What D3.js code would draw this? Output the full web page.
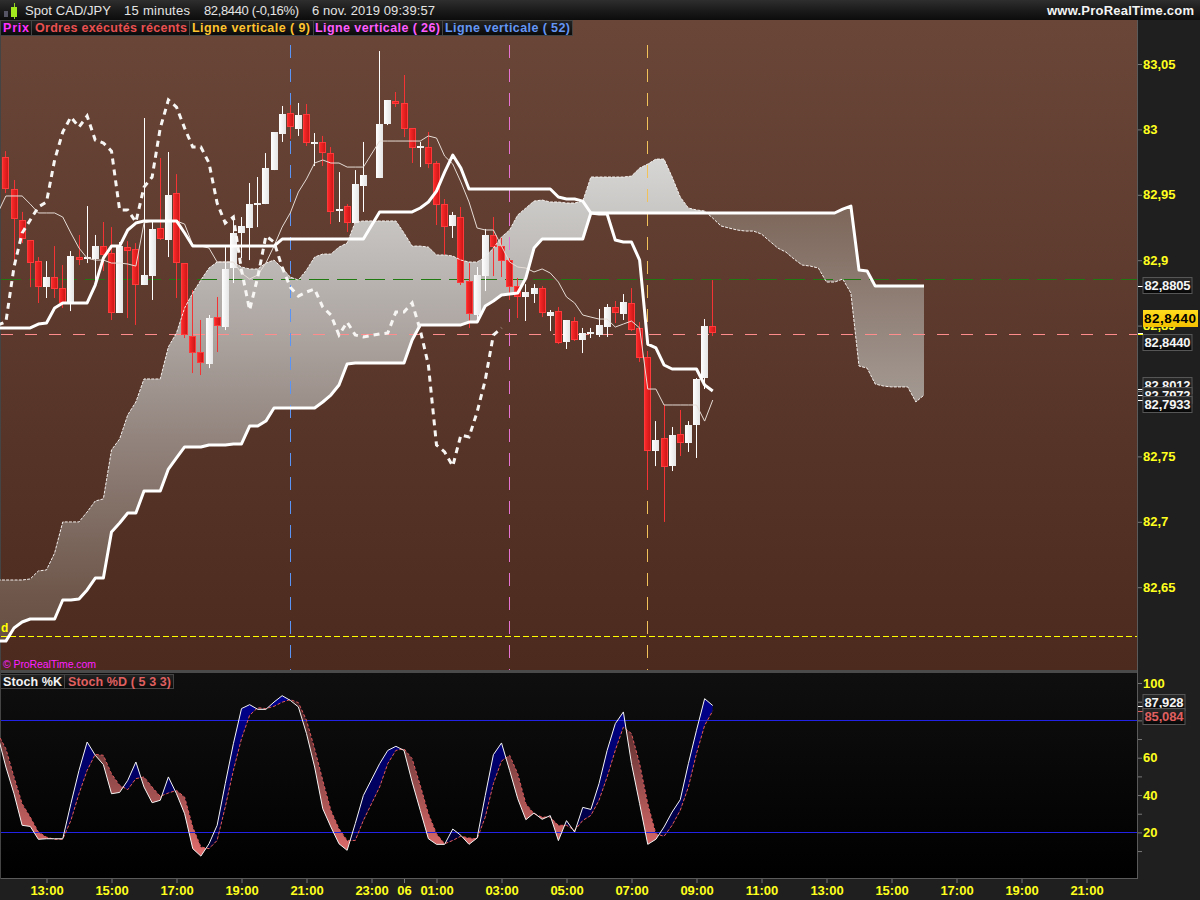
<!DOCTYPE html>
<html><head><meta charset="utf-8"><script src="https://d3js.org/d3.v7.min.js"></script>
<style>html,body{margin:0;padding:0;background:#1f1f1f}svg{display:block}text{font-family:"Liberation Sans",Arial,sans-serif}</style></head>
<body><div id="c"></div>
<script>
// bar index 0 = 13:00, one bar = 15 minutes. Bar 40 (23:00) has no trade.
// Each row below holds ten bars.
const candleStart=-5, lineStart=-6;
const opens=[82.9789,82.9544,82.9307,82.9154,82.8993,82.8794,82.8871,82.8787,82.8673,82.9024,
82.9009,82.9009,82.9108,82.9055,82.8596,82.9100,82.9086,82.8810,82.8879,82.9246,
82.9154,82.9513,82.8978,82.8420,82.8298,82.8206,82.8565,82.8489,82.8940,82.9208,
82.9246,82.9422,82.9429,82.9689,82.9964,83.0125,83.0003,83.0117,82.9888,82.9904,
82.9819,82.9376,82.9414,82.9284,82.9567,null,82.9628,83.0041,83.0217,83.0202,
83.0010,82.9857,82.9865,82.9743,82.9429,82.9262,82.9330,82.8841,82.8581,82.8879,
82.9193,82.9108,82.9001,82.8802,82.8719,82.8741,82.8787,82.8573,82.8611,82.8375,
82.8535,82.8390,82.8436,82.8428,82.8489,82.8642,82.8588,82.8673,82.8482,82.8260,
82.7541,82.7641,82.7426,82.7671,82.7602,82.7740,82.8099,82.8497];
const closes=[82.9544,82.9315,82.9162,82.8978,82.8794,82.8871,82.8780,82.8673,82.9032,82.9009,
82.9024,82.9108,82.9040,82.8596,82.9108,82.9070,82.8810,82.8887,82.9239,82.9162,
82.9498,82.8978,82.8428,82.8290,82.8214,82.8558,82.8497,82.8933,82.9208,82.9262,
82.9429,82.9437,82.9704,82.9980,83.0117,83.0018,83.0110,82.9896,82.9904,82.9819,
82.9369,82.9391,82.9284,82.9582,82.9651,null,83.0041,83.0225,83.0194,83.0003,
82.9857,82.9873,82.9735,82.9422,82.9253,82.9345,82.8825,82.8588,82.8887,82.9193,
82.9100,82.8993,82.8794,82.8719,82.8757,82.8787,82.8596,82.8604,82.8367,82.8543,
82.8390,82.8443,82.8451,82.8505,82.8642,82.8596,82.8681,82.8466,82.8252,82.7541,
82.7625,82.7419,82.7664,82.7602,82.7740,82.8092,82.8497,82.8440];
const highs=[82.9834,82.9613,82.9369,82.9154,82.9024,82.8993,82.9108,82.8963,82.9070,82.9193,
82.9414,82.9193,82.9292,82.9253,82.9139,82.9146,82.9131,83.0087,82.9292,82.9781,
82.9827,82.9658,82.8978,82.8772,82.8543,82.8581,82.8719,82.9100,82.9330,82.9330,
82.9590,82.9636,82.9819,82.9980,83.0179,83.0187,83.0202,83.0194,82.9972,82.9950,
82.9865,82.9674,82.9429,82.9689,82.9904,null,83.0599,83.0225,83.0286,83.0416,
83.0010,82.9904,82.9980,82.9758,82.9468,82.9369,82.9407,82.8978,82.8948,82.9239,
82.9330,82.9177,82.9016,82.8864,82.8817,82.8817,82.8802,82.8619,82.8642,82.8543,
82.8565,82.8482,82.8482,82.8627,82.8665,82.8688,82.8741,82.8787,82.8527,82.8306,
82.7770,82.7893,82.7725,82.7855,82.7770,82.8099,82.8550,82.8848];
const lows=[82.9513,82.8978,82.9131,82.8794,82.8673,82.8711,82.8711,82.8635,82.8611,82.8963,
82.8978,82.8848,82.8917,82.8543,82.8596,82.8558,82.8505,82.8810,82.8696,82.9154,
82.9024,82.8711,82.8405,82.8137,82.8122,82.8175,82.8298,82.8466,82.8825,82.9016,
82.9001,82.9253,82.9429,82.9689,82.9904,82.9927,82.9950,82.9873,82.9720,82.9720,
82.9276,82.9292,82.9216,82.9284,82.9369,null,82.9628,83.0033,83.0171,82.9941,
82.9743,82.9712,82.9704,82.9269,82.9040,82.9170,82.8810,82.8482,82.8527,82.8764,
82.8879,82.8871,82.8696,82.8558,82.8535,82.8673,82.8565,82.8458,82.8359,82.8321,
82.8382,82.8290,82.8405,82.8413,82.8413,82.8520,82.8543,82.8458,82.8222,82.7243,
82.7426,82.6999,82.7388,82.7503,82.7534,82.7488,82.8015,82.8420];
// Kijun, thick white, bars -6..82
const kijun=[82.8482,82.8482,82.8482,82.8482,82.8482,82.8512,82.8520,82.8635,82.8673,82.8673,
82.8673,82.8673,82.8810,82.9016,82.9108,82.9108,82.9231,82.9284,82.9300,82.9300,
82.9300,82.9300,82.9300,82.9208,82.9108,82.9108,82.9108,82.9108,82.9108,82.9108,
82.9108,82.9108,82.9108,82.9108,82.9108,82.9162,82.9162,82.9162,82.9162,82.9162,
82.9162,82.9162,82.9162,82.9162,82.9162,82.9162,null,82.9369,82.9369,82.9369,
82.9369,82.9369,82.9399,82.9445,82.9528,82.9674,82.9804,82.9704,82.9544,82.9544,
82.9544,82.9544,82.9544,82.9544,82.9544,82.9544,82.9544,82.9544,82.9544,82.9483,
82.9468,82.9468,82.9452,82.9361,82.9353,82.9353,82.9154,82.9139,82.9139,82.9001,
82.8359,82.8329,82.8199,82.8168,82.8168,82.8168,82.8168,82.8046,82.8000];
// Tenkan, thin line, bars -6..82
const tenkan=[82.9361,82.9491,82.9491,82.9491,82.9429,82.9361,82.9361,82.9361,82.9330,82.9208,
82.9093,82.9016,82.9001,82.9001,82.8978,82.8978,82.8971,82.8955,82.9284,82.9300,
82.9300,82.9300,82.9300,82.9276,82.9116,82.9108,82.9093,82.8986,82.8986,82.8986,
82.8902,82.8856,82.8887,82.8978,82.9108,82.9253,82.9361,82.9521,82.9621,82.9743,
82.9766,82.9743,82.9743,82.9712,82.9712,82.9712,null,82.9911,82.9911,82.9911,
82.9911,82.9911,82.9911,82.9950,82.9934,82.9796,82.9735,82.9598,82.9445,82.9246,
82.9231,82.9231,82.9108,82.8986,82.8948,82.8940,82.8910,82.8933,82.8902,82.8833,
82.8719,82.8673,82.8581,82.8565,82.8550,82.8550,82.8489,82.8512,82.8535,82.8482,
82.8015,82.8015,82.7893,82.7893,82.7893,82.7893,82.7893,82.7770,82.7931];
// Chikou, thick dashed, bars -6..56
const chikou=[82.8505,82.8527,82.8948,82.9208,82.9307,82.9407,82.9445,82.9766,82.9980,83.0095,
83.0018,83.0102,82.9919,82.9896,82.9834,82.9384,82.9384,82.9292,82.9559,82.9636,
83.0010,83.0225,83.0171,83.0010,82.9865,82.9865,82.9743,82.9437,82.9284,82.9330,
82.8925,82.8619,82.8871,82.9185,82.9139,82.8948,82.8794,82.8726,82.8757,82.8780,
82.8642,82.8581,82.8428,82.8527,82.8428,82.8413,null,82.8436,82.8443,82.8604,
82.8604,82.8673,82.8466,82.8199,82.7587,82.7534,82.7426,82.7664,82.7648,82.7839,
82.8084,82.8428,82.8482];
// Senkou B, thick cloud edge, bars -6..108
const senkouB=[82.6088,82.6088,82.6188,82.6234,82.6257,82.6257,82.6257,82.6257,82.6402,82.6402,
82.6410,82.6479,82.6570,82.6570,82.6922,82.6991,82.7067,82.7067,82.7235,82.7235,
82.7235,82.7403,82.7488,82.7572,82.7572,82.7572,82.7587,82.7587,82.7587,82.7595,
82.7595,82.7732,82.7732,82.7770,82.7870,82.7870,82.7870,82.7870,82.7870,82.7870,
82.7916,82.7969,82.8046,82.8206,82.8214,82.8214,null,82.8214,82.8214,82.8214,
82.8214,82.8390,82.8505,82.8505,82.8505,82.8505,82.8505,82.8505,82.8527,82.8527,
82.8650,82.8688,82.8734,82.8741,82.8749,82.8864,82.9093,82.9162,82.9162,82.9162,
82.9162,82.9162,82.9162,82.9361,82.9361,82.9361,82.9361,82.9361,82.9361,82.9361,
82.9361,82.9361,82.9361,82.9361,82.9361,82.9361,82.9361,82.9361,82.9361,82.9361,
82.9361,82.9361,82.9361,82.9361,82.9361,82.9361,82.9361,82.9361,82.9361,82.9361,
82.9361,82.9361,82.9361,82.9361,82.9391,82.9414,82.8925,82.8917,82.8802,82.8802,
82.8802,82.8802,82.8802,82.8802,82.8802];
// Senkou A, thin dashed cloud edge, bars -6..108
const senkouA=[82.6555,82.6555,82.6555,82.6555,82.6563,82.6624,82.6632,82.6761,82.6999,82.6999,
82.6999,82.7075,82.7159,82.7175,82.7549,82.7633,82.7817,82.7916,82.8092,82.8092,
82.8092,82.8337,82.8443,82.8635,82.8749,82.8848,82.8940,82.8986,82.8986,82.8986,
82.8948,82.8933,82.8933,82.8978,82.9001,82.8940,82.8871,82.8848,82.8925,82.9024,
82.9047,82.9047,82.9100,82.9131,82.9292,82.9300,null,82.9300,82.9300,82.9300,
82.9208,82.9108,82.9108,82.9100,82.9040,82.9040,82.9032,82.9001,82.8986,82.8986,
82.9024,82.9093,82.9177,82.9231,82.9346,82.9399,82.9452,82.9460,82.9445,82.9445,
82.9437,82.9437,82.9452,82.9636,82.9636,82.9636,82.9636,82.9636,82.9643,82.9704,
82.9735,82.9773,82.9773,82.9636,82.9483,82.9399,82.9384,82.9376,82.9322,82.9262,
82.9246,82.9231,82.9223,82.9223,82.9200,82.9146,82.9093,82.9062,82.9009,82.8963,
82.8955,82.8940,82.8833,82.8833,82.8856,82.8749,82.8191,82.8175,82.8053,82.8038,
82.8031,82.8031,82.8031,82.7916,82.7969];
// Stochastic, bars -6..82
const stochK=[72.0,55.0,40.7,23.8,23.2,16.3,16.6,16.6,16.6,35.4,
53.2,68.4,61.3,56.3,40.7,41.4,47.9,57.7,44.3,35.9,
37.2,49.7,40.7,30.0,11.3,7.3,13.9,23.8,46.1,67.5,
86.3,88.4,85.9,85.9,89.8,93.2,90.7,87.2,72.9,55.0,
32.7,22.9,13.9,10.4,24.7,39.8,null,56.8,63.9,66.1,
63.9,47.0,31.8,16.6,13.6,13.6,21.8,18.4,13.6,17.0,
39.8,61.6,67.9,53.2,38.0,26.8,30.4,27.0,29.0,15.6,
26.3,20.2,33.4,32.3,46.1,63.9,78.2,84.5,56.8,35.4,
13.6,16.3,22.9,30.9,37.5,56.8,74.7,91.6,87.928];
const stochD=[72.9,64.8,49.7,35.4,28.2,20.2,17.5,16.3,16.3,26.4,
40.7,53.2,61.8,61.3,51.4,45.2,42.9,48.8,49.7,44.3,
39.3,41.1,42.5,38.9,22.9,12.2,11.3,15.7,33.6,53.2,
70.2,82.7,86.8,86.3,87.5,89.7,91.1,89.5,80.0,64.8,
47.9,31.8,22.0,15.7,15.7,26.4,null,44.3,56.8,63.9,
64.8,59.5,45.2,30.0,19.3,13.9,15.7,18.0,17.0,16.6,
28.2,46.1,58.2,61.3,51.4,35.4,30.0,28.2,28.2,23.8,
23.8,21.1,26.4,29.1,37.2,49.7,63.9,76.4,72.9,56.8,
35.4,19.3,17.9,23.8,31.8,44.3,62.2,77.3,85.084];
const priceTicks=[83.05,83,82.95,82.9,82.85,82.8,82.75,82.7,82.65];
const priceTickLabels=["83,05","83","82,95","82,9","82,85","82,8","82,75","82,7","82,65"];
const stochTicks=[100,90,80,70,60,50,40,30,20,10];
const stochTickLabels=["100","","","","60","","40","","20",""];
const timeTicks=[0,8,16,24,32,40,44,48,56,64,72,80,88,96,104,112,120,128];
const timeLabels=["13:00","15:00","17:00","19:00","21:00","23:00","06","01:00","03:00","05:00","07:00","09:00","11:00","13:00","15:00","17:00","19:00","21:00"];
const verticalBars=[74,57,30];
const verticalColors=["#f2c25a","#e673d2","#5a94f5"];
const levelValues=[82.8858,82.844,82.6127];
const boxValues=[82.8805,82.8012,82.7972,82.7933,82.844];
const boxLabels=["82,8805","82,8012","82,7972","82,7933","82,8440"];
const stochBoxValues=[87.928,85.084];
const stochBoxLabels=["87,928","85,084"];

const W=1200,H=900,plotR=1137;
const svg=d3.select("#c").append("svg").attr("width",W).attr("height",H).attr("viewBox",`0 0 ${W} ${H}`);
const defs=svg.append("defs");
const x=d3.scaleLinear().domain([0,80]).range([46.5,696.5]);
const y=d3.scaleLinear().domain([83.05,82.65]).range([64,587.2]);
const ys=d3.scaleLinear().domain([100,20]).range([683,832.4]);
function grad(id,x1,y1,x2,y2,stops,user){
  const g=defs.append("linearGradient").attr("id",id).attr("x1",x1).attr("y1",y1).attr("x2",x2).attr("y2",y2);
  if(user)g.attr("gradientUnits","userSpaceOnUse");
  stops.forEach(s=>g.append("stop").attr("offset",s[0]).attr("stop-color",s[1]));
}
grad("bgMain",0,0,0,1,[[0,"#694638"],[1,"#4c2a1e"]]);
grad("bgStoch",0,0,0,1,[[0,"#0f0f0f"],[1,"#000"]]);
grad("bar",0,0,0,1,[[0,"#2e2e2e"],[.6,"#181818"],[1,"#0c0c0c"]]);
grad("chip",0,0,0,1,[[0,"#242424"],[1,"#0a0a0a"]]);
grad("box",0,0,0,1,[[0,"#2a2a2a"],[1,"#050505"]]);
grad("yellowBox",0,0,0,1,[[0,"#ffdc1e"],[1,"#f5c000"]]);
grad("redBody",0,0,1,0,[[0,"#ff2a2a"],[1,"#c81616"]]);
grad("whiteBody",0,0,1,0,[[0,"#ffffff"],[1,"#e4e4e4"]]);
grad("cloudUp",0,159,0,641,[[0,"#d6d6d4"],[.22,"#bcb8b5"],[.4,"#a89f9a"],[.6,"#90817a"],[.9,"#6f574b"],[1,"#674f43"]],true);
grad("cloudDown",0,206,0,403,[[0,"#7d665a"],[1,"#a49a93"]],true);
grad("fillUp",0,695,0,860,[[0,"#000090"],[.6,"#00005c"],[1,"#000028"]],true);
grad("fillDown",0,695,0,855,[[0,"#3c1c1c"],[.5,"#8e4848"],[1,"#e06c6c"]],true);
defs.append("clipPath").attr("id","clipMain").append("rect").attr("x",0).attr("y",20).attr("width",plotR).attr("height",650);
defs.append("clipPath").attr("id","clipStoch").append("rect").attr("x",0).attr("y",673).attr("width",plotR).attr("height",205);

// panels
svg.append("rect").attr("width",W).attr("height",H).attr("fill","#1f1f1f");
svg.append("rect").attr("x",1).attr("y",20).attr("width",plotR-1).attr("height",650).attr("fill","url(#bgMain)");
svg.append("rect").attr("x",1).attr("y",673).attr("width",plotR-1).attr("height",205).attr("fill","url(#bgStoch)");
svg.append("rect").attr("width",W).attr("height",20).attr("fill","url(#bar)");
svg.append("rect").attr("x",0).attr("y",670).attr("width",1138).attr("height",3).attr("fill","#4a4a4a");
svg.append("rect").attr("x",0).attr("y",878).attr("width",1138).attr("height",1).attr("fill","#5a5a5a");
svg.append("rect").attr("x",1137).attr("y",20).attr("width",1).attr("height",859).attr("fill","#5a5a5a");
svg.append("rect").attr("x",0).attr("y",20).attr("width",1).attr("height",859).attr("fill","#444");

// main panel
const main=svg.append("g").attr("clip-path","url(#clipMain)");
const seriesRows=(arr,start)=>arr.map((v,k)=>({i:start+k,v})).filter(d=>d.v!=null);
const priceLine=d3.line().x(d=>x(d.i)).y(d=>y(d.v));
const rowsA=seriesRows(senkouA,lineStart), rowsB=seriesRows(senkouB,lineStart);
const byBarB=new Map(rowsB.map(d=>[d.i,d.v]));
const cloudRows=rowsA.filter(d=>byBarB.has(d.i)).map(d=>({i:d.i,a:d.v,b:byBarB.get(d.i)}));
const cloudArea=d3.area().x(d=>x(d.i)).y0(d=>y(d.a)).y1(d=>y(d.b));
main.append("path").attr("d",cloudArea(cloudRows.filter(d=>d.i<=81))).attr("fill","url(#cloudUp)");
main.append("path").attr("d",cloudArea(cloudRows.filter(d=>d.i>=81))).attr("fill","url(#cloudDown)");

// horizontal levels
const levelStyle=[["#1f7a12","20 8"],["#ff8c8c","12 12"],["#ffff00","6 3"]];
levelValues.forEach((v,k)=>{
  const py=Math.ceil(y(v))+.5;
  main.append("line").attr("x1",1).attr("x2",plotR).attr("y1",py).attr("y2",py)
    .attr("stroke",levelStyle[k][0]).attr("stroke-dasharray",levelStyle[k][1]);
});
// vertical lines
verticalBars.forEach((b,k)=>{
  const px=Math.floor(x(b)-.25)+.5;
  main.append("line").attr("x1",px).attr("x2",px).attr("y1",45).attr("y2",670)
    .attr("stroke",verticalColors[k]).attr("stroke-dasharray","13 11");
});

// candles
const candles=opens.map((o,k)=>({i:candleStart+k,o,c:closes[k],h:highs[k],l:lows[k]})).filter(d=>d.o!=null);
const cg=main.append("g");
cg.selectAll("line").data(candles).join("line")
  .attr("x1",d=>Math.floor(x(d.i))+.5).attr("x2",d=>Math.floor(x(d.i))+.5)
  .attr("y1",d=>y(d.h)).attr("y2",d=>y(d.l))
  .attr("stroke",d=>d.o>d.c?"#f43434":"#fff").attr("stroke-width",1);
cg.selectAll("rect").data(candles).join("rect")
  .attr("shape-rendering","crispEdges")
  .attr("x",d=>Math.floor(x(d.i))-(d.o>d.c?2.5:3))
  .attr("width",d=>d.o>d.c?6:7)
  .attr("y",d=>{const t=Math.round(y(Math.max(d.o,d.c)));return d.o>d.c?t+.5:t;})
  .attr("height",d=>Math.max(2,Math.round(Math.abs(y(d.o)-y(d.c)))-(d.o>d.c?1:0)))
  .attr("fill",d=>d.o>d.c?"url(#redBody)":"url(#whiteBody)")
  .attr("stroke",d=>d.o>d.c?"#ff3a3a":"none");

// indicator lines
main.append("path").attr("d",priceLine(rowsA)).attr("fill","none").attr("stroke","#f4f0ee").attr("stroke-width",1).attr("stroke-dasharray","3 1.2");
main.append("path").attr("d",priceLine(seriesRows(tenkan,lineStart))).attr("fill","none").attr("stroke","#e6dcd6").attr("stroke-width",1);
main.append("path").attr("d",priceLine(rowsB)).attr("fill","none").attr("stroke","#fff").attr("stroke-width",3).attr("stroke-linejoin","round");
main.append("path").attr("d",priceLine(seriesRows(kijun,lineStart))).attr("fill","none").attr("stroke","#fff").attr("stroke-width",3).attr("stroke-linejoin","round");
main.append("path").attr("d",priceLine(seriesRows(chikou,lineStart))).attr("fill","none").attr("stroke","#f8f6f4").attr("stroke-width",3).attr("stroke-dasharray","6 5");

main.append("text").attr("x",1).attr("y",632).attr("fill","#ffff00").attr("font-weight","bold").attr("font-size",12).text("d");
svg.append("text").attr("x",3).attr("y",668).attr("fill","#ff20ff").attr("font-size",10.5).attr("textLength",93).text("© ProRealTime.com");

// stochastic
const stoch=svg.append("g").attr("clip-path","url(#clipStoch)");
const kRows=seriesRows(stochK,lineStart), dRows=seriesRows(stochD,lineStart);
const byBarD=new Map(dRows.map(d=>[d.i,d.v]));
const sRows=kRows.filter(d=>byBarD.has(d.i)).map(d=>({i:d.i,k:d.v,d:byBarD.get(d.i)}));
defs.append("clipPath").attr("id","aboveD").append("path").attr("d",d3.area().x(d=>x(d.i)).y0(673).y1(d=>ys(d.d))(sRows));
defs.append("clipPath").attr("id","belowD").append("path").attr("d",d3.area().x(d=>x(d.i)).y0(878).y1(d=>ys(d.d))(sRows));
const sArea=d3.area().x(d=>x(d.i)).y0(d=>ys(d.k)).y1(d=>ys(d.d));
stoch.append("g").attr("clip-path","url(#aboveD)").append("path").attr("d",sArea(sRows)).attr("fill","url(#fillUp)");
stoch.append("g").attr("clip-path","url(#belowD)").append("path").attr("d",sArea(sRows)).attr("fill","url(#fillDown)");
[80,20].forEach(v=>stoch.append("line").attr("x1",1).attr("x2",plotR).attr("y1",Math.round(ys(v))+.5).attr("y2",Math.round(ys(v))+.5).attr("stroke","#2222e6"));
const sLine=d3.line().x(d=>x(d.i)).y(d=>ys(d.v));
stoch.append("path").attr("d",sLine(dRows)).attr("fill","none").attr("stroke","#e05a5a").attr("stroke-width",1).attr("stroke-dasharray","3 2");
stoch.append("path").attr("d",sLine(kRows)).attr("fill","none").attr("stroke","#f4f4f4").attr("stroke-width",1);

// axes
function styleAxis(g,color){
  g.attr("font-family",'"Liberation Sans",Arial,sans-serif').attr("font-size",13).attr("font-weight","bold");
  g.select(".domain").remove();
  g.selectAll(".tick line").attr("stroke","#777");
  g.selectAll(".tick text").attr("fill",color);
}
const priceAxis=d3.axisRight(y).tickValues(priceTicks).tickFormat((d,k)=>priceTickLabels[k]).tickSize(4).tickPadding(1);
svg.append("g").attr("transform",`translate(1138,0)`).call(priceAxis).call(styleAxis,"#ffff1e");
const stochAxis=d3.axisRight(ys).tickValues(stochTicks).tickFormat((d,k)=>stochTickLabels[k]).tickSize(4).tickPadding(1);
svg.append("g").attr("transform",`translate(1138,0)`).call(stochAxis).call(styleAxis,"#ffff1e");
const timeAxis=d3.axisBottom(x).tickValues(timeTicks).tickFormat((d,k)=>timeLabels[k]).tickSize(4).tickPadding(3);
svg.append("g").attr("transform",`translate(0,879)`).call(timeAxis).call(styleAxis,"#ffff1e");

// value boxes: drawn in reference order, offset where they would collide
const boxDy=[0,-4,1,5,9];
function box(cy,w,label,fill,color,tickColor,tickY){
  svg.append("line").attr("x1",1138).attr("x2",1143).attr("y1",Math.round(tickY)+.5).attr("y2",Math.round(tickY)+.5).attr("stroke",tickColor);
  svg.append("rect").attr("x",1143).attr("y",Math.round(cy-8.5)+.5).attr("width",w).attr("height",16).attr("fill",fill).attr("stroke","#565656");
  svg.append("text").attr("x",1144.5).attr("y",Math.round(cy-8.5)+13).attr("fill",color).attr("font-size",13).attr("font-weight","bold").attr("textLength",w-3).text(label);
}
boxValues.forEach((v,k)=>box(y(v)+boxDy[k],49,boxLabels[k],"url(#box)","#f4f4f4","#fff",y(v)));
svg.append("rect").attr("x",1143).attr("y",310).attr("width",55).attr("height",17).attr("fill","url(#yellowBox)");
svg.append("text").attr("x",1144).attr("y",323).attr("fill","#000").attr("font-size",13.5).attr("font-weight","bold").attr("textLength",52).text(boxLabels[4]);
svg.append("line").attr("x1",1138).attr("x2",1143).attr("y1",334.5).attr("y2",334.5).attr("stroke","#ffff00");
const stochBoxCy=[702,716.5], stochBoxColors=["#f4f4f4","#e06060"];
stochBoxValues.forEach((v,k)=>{
  box(stochBoxCy[k],42,stochBoxLabels[k],"url(#box)",stochBoxColors[k],stochBoxColors[k],ys(v));
});

// header
const head=[["Spot CAD/JPY",25,86],["15 minutes",124,66],["82,8440 (-0,16%)",204,95],["6 nov. 2019 09:39:57",312,123]];
head.forEach(h=>svg.append("text").attr("x",h[1]).attr("y",15).attr("fill","#e4e4e4").attr("font-size",13).attr("textLength",h[2]).text(h[0]));
svg.append("text").attr("x",1047).attr("y",15).attr("fill","#f4f4f4").attr("font-size",13).attr("font-weight","bold").attr("textLength",147).text("www.ProRealTime.com");
svg.append("rect").attr("x",4).attr("y",11).attr("width",4).attr("height",6).attr("fill","#556");
svg.append("line").attr("x1",14.5).attr("x2",14.5).attr("y1",3).attr("y2",19).attr("stroke","#8fd61e");
svg.append("rect").attr("x",11).attr("y",7).attr("width",6).attr("height",10).attr("fill","#a4e81e");
function chip(x0,w,y0,h,txtX,txtW,label,color){
  svg.append("rect").attr("x",x0+.5).attr("y",y0+.5).attr("width",w).attr("height",h).attr("fill","url(#chip)").attr("stroke","#444");
  svg.append("text").attr("x",txtX).attr("y",y0+12).attr("fill",color).attr("font-size",12.5).attr("font-weight","bold").attr("textLength",txtW).text(label);
}
chip(0,31,20,15,3,26,"Prix","#ff30ff");
chip(31,158,20,15,35,152,"Ordres exécutés récents","#ea5050");
chip(189,124,20,15,192,118,"Ligne verticale ( 9)","#ffc42e");
chip(313,129,20,15,315,125,"Ligne verticale ( 26)","#ff5cff");
chip(442,130,20,15,445,125,"Ligne verticale ( 52)","#6496f5");
chip(0,64,674,14,3,59,"Stoch %K","#f4f4f4");
chip(64,109,674,14,68,103,"Stoch %D ( 5 3 3)","#e06060");
</script></body></html>
